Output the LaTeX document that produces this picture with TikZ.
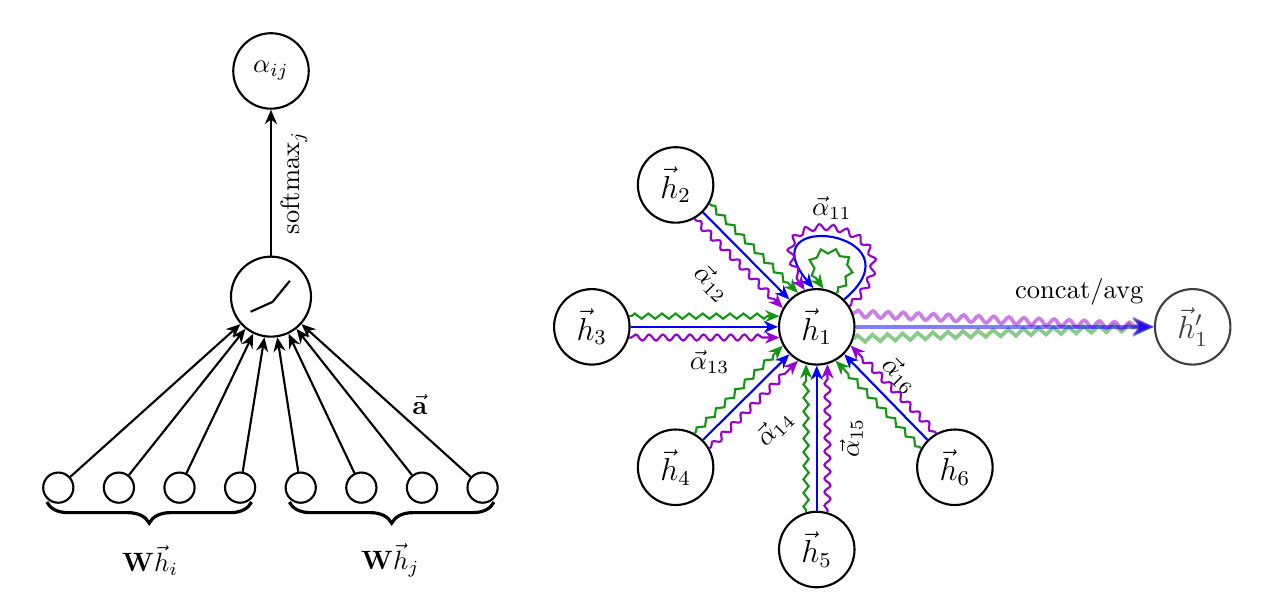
\documentclass[tikz,border=0pt]{standalone}
\usepackage{amsmath, amssymb}
\usepackage{tikz}
\usetikzlibrary{arrows.meta, positioning, calc, decorations.pathmorphing, decorations.pathreplacing}

\definecolor{attgreen}{RGB}{20,150,20}
\definecolor{attpurple}{RGB}{150,0,210}

\begin{document}
\begin{tikzpicture}[
    neuron/.style={circle, draw, thick, minimum size=1cm, inner sep=0pt},
    hnode/.style={neuron, font=\large},
    feat/.style={circle, draw, thick, minimum size=0.4cm, inner sep=0pt},
    arr/.style={-{Stealth[length=1.9mm, width=1.6mm]}},
    blueedge/.style={arr, thick, blue},
    zig/.style={arr, thick, attgreen, decorate, decoration={zigzag, segment length=1.8mm, amplitude=0.35mm, pre length=0.3mm, post length=1.6mm}},
    wave/.style={arr, thick, attpurple, decorate, decoration={snake, segment length=1.8mm, amplitude=0.4mm, pre length=0.3mm, post length=1.6mm}},
    headout/.style={-{Stealth[length=2.8mm, width=2.4mm]}, line width=1.4pt, opacity=0.5}
]
    \useasboundingbox (0,0) rectangle (17.01,-7.91);
    \def\off{16}

    % Left: attention coefficient
    \node[neuron] (alpha) at (3.59,-0.94) {$\alpha_{ij}$};
    \node[neuron, minimum size=1.06cm] (act) at (3.59,-3.93) {};
    \draw[thick] ($(act)+(-0.27,-0.2)$) -- ($(act)+(0.02,-0.07)$) -- ($(act)+(0.25,0.21)$);
    \draw[arr, thick] (act) -- node[midway, below, sloped] {softmax$_j$} (alpha);

    % Wh_i and Wh_j inputs
    \foreach \i in {1,...,8} {
        \node[feat] (x\i) at ({0.772+0.803*(\i-1)},-6.46) {};
        \draw[arr, thick] (x\i) -- (act);
    }
    \draw[decorate, decoration={brace, mirror, amplitude=0.28cm}, very thick]
        ($(x1.south west)+(0,-0.04)$) -- ($(x4.south east)+(0,-0.04)$);
    \draw[decorate, decoration={brace, mirror, amplitude=0.28cm}, very thick]
        ($(x5.south west)+(0,-0.04)$) -- ($(x8.south east)+(0,-0.04)$);
    \node (whi) at (1.99,-7.42) {$\mathbf{W}\vec{h}_i$};
    \node (whj) at (5.17,-7.42) {$\mathbf{W}\vec{h}_j$};
    \node (avec) at (5.56,-5.36) {$\vec{\mathbf{a}}$};

    % Right: multi-head attention on the neighbourhood of h_1
    \node[hnode] (h1) at (10.82,-4.33) {$\vec{h}_1$};
    \node[hnode] (h2) at (8.95,-2.45) {$\vec{h}_2$};
    \node[hnode] (h3) at (7.84,-4.33) {$\vec{h}_3$};
    \node[hnode] (h4) at (8.95,-6.19) {$\vec{h}_4$};
    \node[hnode] (h5) at (10.82,-7.28) {$\vec{h}_5$};
    \node[hnode] (h6) at (12.65,-6.19) {$\vec{h}_6$};
    \node[hnode, draw=black!75, text=black!75] (h1p) at (15.80,-4.33) {$\vec{h}'_1$};

    % three heads per neighbour
    \foreach \j/\a in {2/135, 3/180, 4/225, 5/270, 6/315} {
        \pgfmathtruncatemacro{\b}{mod(\a+180,360)}
        \pgfmathtruncatemacro{\bl}{mod(\a+180+\off,360)}
        \pgfmathtruncatemacro{\br}{mod(\a+180-\off,360)}
        \pgfmathtruncatemacro{\el}{\a-\off}
        \pgfmathtruncatemacro{\er}{\a+\off}
        \draw[blueedge] (h\j.\b) -- (h1.\a);
        \draw[zig] (h\j.\bl) -- (h1.\el);
        \draw[wave] (h\j.\br) -- (h1.\er);
    }

    % self attention
    \draw[blueedge] (h1.45) .. controls +(40:1.4) and +(130:1.4) .. (h1.95);
    \draw[zig] (h1.60) .. controls +(45:0.95) and +(130:0.95) .. (h1.80);
    \draw[wave] (h1.32) .. controls +(45:1.6) and +(128:1.6) .. (h1.108);

    % coefficients
    \node (a11) at (11.02,-2.76) {$\vec{\alpha}_{11}$};
    \node[rotate=-45] (a12) at (9.43,-3.75) {$\vec{\alpha}_{12}$};
    \node (a13) at (9.40,-4.79) {$\vec{\alpha}_{13}$};
    \node[rotate=45] (a14) at (10.26,-5.67) {$\vec{\alpha}_{14}$};
    \node[rotate=90] (a15) at (11.28,-5.80) {$\vec{\alpha}_{15}$};
    \node[rotate=-45] (a16) at (11.92,-4.97) {$\vec{\alpha}_{16}$};

    % aggregation of the heads
    \draw[headout, attgreen, decorate, decoration={zigzag, segment length=2mm, amplitude=0.45mm, post length=2.6mm}] (h1.-18) -- (h1p.west);
    \draw[headout, attpurple, decorate, decoration={snake, segment length=2mm, amplitude=0.45mm, post length=2.6mm}] (h1.20) -- (h1p.west);
    \draw[headout, blue] (h1) -- node[pos=0.75, above=0.15cm, text=black, opacity=1] {concat/avg} (h1p);
\end{tikzpicture}
\end{document}
